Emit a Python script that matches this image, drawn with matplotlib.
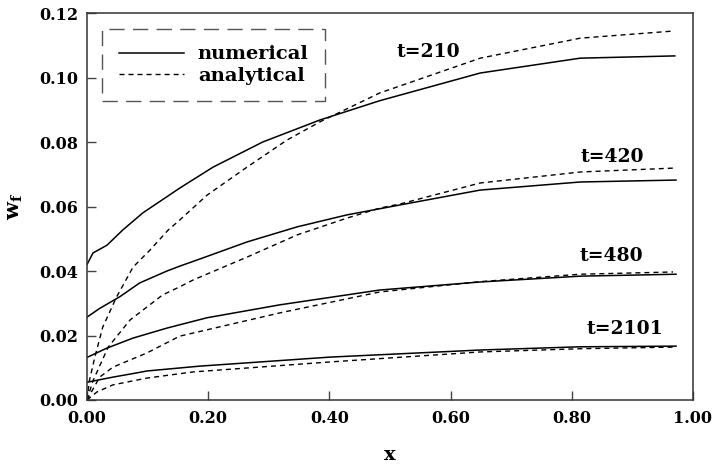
import numpy as np
import matplotlib
matplotlib.use('Agg')
import matplotlib.pyplot as plt

plt.rcParams['font.family'] = ['DejaVu Serif']
plt.rcParams['font.weight'] = 'bold'
plt.rcParams['mathtext.fontset'] = 'dejavuserif'

# numerical / analytical profiles of w_f along x for each time
x_num_210 = [0, 0.010, 0.033, 0.059, 0.092, 0.153, 0.208, 0.290, 0.384, 0.483, 0.649, 0.814, 0.970]
w_num_210 = [0.0420, 0.0456, 0.0480, 0.0527, 0.0580, 0.0657, 0.0722, 0.0800, 0.0868, 0.0928, 0.1014, 0.1060, 0.1067]
x_ana_210 = [0, 0.004, 0.013, 0.026, 0.049, 0.076, 0.104, 0.134, 0.153, 0.198, 0.264, 0.330, 0.384, 0.483, 0.649, 0.814, 0.967]
w_ana_210 = [0, 0.0060, 0.0133, 0.0226, 0.0320, 0.0412, 0.0465, 0.0527, 0.0558, 0.0635, 0.0722, 0.0806, 0.0862, 0.0952, 0.1060, 0.1122, 0.1144]

x_num_420 = [0, 0.021, 0.054, 0.087, 0.132, 0.153, 0.186, 0.264, 0.347, 0.429, 0.517, 0.649, 0.814, 0.972]
w_num_420 = [0.0257, 0.0284, 0.0320, 0.0363, 0.0400, 0.0415, 0.0437, 0.0490, 0.0537, 0.0574, 0.0605, 0.0651, 0.0676, 0.0682]
x_ana_420 = [0, 0.010, 0.035, 0.071, 0.125, 0.153, 0.175, 0.264, 0.347, 0.429, 0.483, 0.517, 0.649, 0.814, 0.967]
w_ana_420 = [0, 0.0060, 0.0164, 0.0248, 0.0326, 0.0351, 0.0372, 0.0443, 0.0512, 0.0564, 0.0595, 0.0608, 0.0673, 0.0707, 0.0719]

x_num_480 = [0, 0.033, 0.076, 0.132, 0.198, 0.318, 0.483, 0.649, 0.814, 0.972]
w_num_480 = [0.0132, 0.0161, 0.0192, 0.0223, 0.0255, 0.0295, 0.0341, 0.0366, 0.0384, 0.0390]
x_ana_480 = [0, 0.021, 0.043, 0.099, 0.153, 0.318, 0.483, 0.649, 0.814, 0.967]
w_ana_480 = [0, 0.0071, 0.0102, 0.0146, 0.0198, 0.0270, 0.0335, 0.0367, 0.0390, 0.0397]

x_num_2101 = [0, 0.043, 0.082, 0.099, 0.186, 0.401, 0.649, 0.814, 0.972]
w_num_2101 = [0.0055, 0.0071, 0.0084, 0.0090, 0.0105, 0.0133, 0.0155, 0.0165, 0.0167]
x_ana_2101 = [0, 0.0165, 0.043, 0.099, 0.175, 0.401, 0.649, 0.814, 0.967]
w_ana_2101 = [0, 0.0025, 0.0047, 0.0068, 0.0087, 0.0118, 0.0149, 0.0159, 0.0164]

labels = ['t=210', 't=420', 't=480', 't=2101']
label_x = [0.563, 0.866, 0.866, 0.888]
label_y = [0.1079, 0.0753, 0.0447, 0.0220]

fig = plt.figure(figsize=(7.17, 4.68), dpi=100)
ax = fig.add_axes([0.1213, 0.1453, 0.8452, 0.8269])

dash = (3.6, 2.9)
ax.plot(x_num_210, w_num_210, 'k-', lw=1.1, label='numerical')
ax.plot(x_ana_210, w_ana_210, 'k--', lw=1.0, dashes=dash, label='analytical')
ax.plot(x_num_420, w_num_420, 'k-', lw=1.1)
ax.plot(x_ana_420, w_ana_420, 'k--', lw=1.0, dashes=dash)
ax.plot(x_num_480, w_num_480, 'k-', lw=1.1)
ax.plot(x_ana_480, w_ana_480, 'k--', lw=1.0, dashes=dash)
ax.plot(x_num_2101, w_num_2101, 'k-', lw=1.1)
ax.plot(x_ana_2101, w_ana_2101, 'k--', lw=1.0, dashes=dash)

for s, lx, ly in zip(labels, label_x, label_y):
    ax.text(lx, ly, s, ha='center', va='center', fontsize=13.5, fontweight='bold')

ax.set_xlim(0, 1.0)
ax.set_ylim(0, 0.12)
ax.set_xticks(np.arange(0, 1.01, 0.2))
ax.set_yticks(np.arange(0, 0.121, 0.02))
ax.set_xticklabels(['%.2f' % v for v in np.arange(0, 1.01, 0.2)])
ax.set_yticklabels(['%.2f' % v for v in np.arange(0, 0.121, 0.02)])
ax.tick_params(direction='in', length=6.5, width=1.0, labelsize=11.5, color='#444444')
ax.tick_params(axis='x', pad=7)
ax.tick_params(axis='y', pad=6.5)
for sp in ax.spines.values():
    sp.set_linewidth(1.1)
    sp.set_color('#333333')

ax.set_xlabel('x', fontsize=14, fontweight='bold', labelpad=14)
ax.set_ylabel(r'$\mathbf{w_f}$', fontsize=15, labelpad=10)

leg = ax.legend(loc='upper left', bbox_to_anchor=(0.025, 0.959), borderaxespad=0,
                fontsize=14, handlelength=3.35, handletextpad=0.72, borderpad=0.85,
                labelspacing=0.17, fancybox=False, framealpha=1)
fr = leg.get_frame()
fr.set_edgecolor('#555555')
fr.set_linewidth(1.0)
fr.set_linestyle((0, (11, 6)))

fig.savefig('out.png', dpi=100)
